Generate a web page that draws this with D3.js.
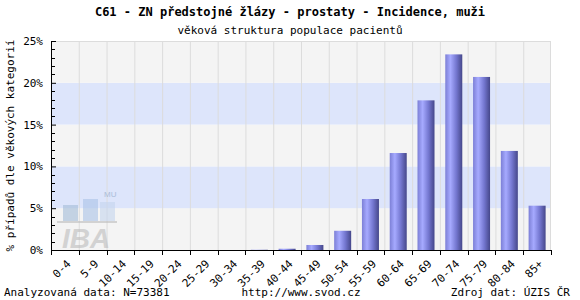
<!DOCTYPE html>
<html>
<head>
<meta charset="utf-8">
<script src="https://cdnjs.cloudflare.com/ajax/libs/d3/7.8.5/d3.min.js"></script>
<style>
  body { margin: 0; background: #fff; }
  svg text { font-family: "DejaVu Sans Mono", monospace; fill: #000; }
</style>
</head>
<body>
<div id="chart"></div>
<script>
// data
var categories = ["0-4","5-9","10-14","15-19","20-24","25-29","30-34","35-39","40-44",
                  "45-49","50-54","55-59","60-64","65-69","70-74","75-79","80-84","85+"];
var values = [0, 0, 0, 0, 0, 0, 0, 0.03, 0.15, 0.6, 2.3, 6.1, 11.6, 17.9, 23.4, 20.7, 11.85, 5.3];
var yTicks = [0, 5, 10, 15, 20, 25];

var title = "C61 - ZN předstojné žlázy - prostaty - Incidence, muži";
var subtitle = "věková struktura populace pacientů";
var yLabel = "% případů dle věkových kategorií";
var footLeft = "Analyzovaná data: N=73381",
    footMid = "http://www.svod.cz",
    footRight = "Zdroj dat: ÚZIS ČR";

var width = 580, height = 300;
var margin = {top: 41, right: 29, bottom: 50, left: 51};
var w = width - margin.left - margin.right,
    h = height - margin.top - margin.bottom;

var svg = d3.select("#chart").append("svg")
    .attr("width", width)
    .attr("height", height);

var defs = svg.append("defs");
var grad = defs.append("linearGradient").attr("id", "barGrad")
    .attr("x1", "0%").attr("x2", "100%").attr("y1", "0%").attr("y2", "0%");
grad.append("stop").attr("offset", "0%").attr("stop-color", "#7c7fd6");
grad.append("stop").attr("offset", "30%").attr("stop-color", "#a6aaff");
grad.append("stop").attr("offset", "65%").attr("stop-color", "#7477d0");
grad.append("stop").attr("offset", "100%").attr("stop-color", "#45478a");

var x = d3.scaleBand().domain(categories).range([0, w]);
var y = d3.scaleLinear().domain([0, 25]).range([h, 0]);

var g = svg.append("g").attr("transform", "translate(" + margin.left + "," + margin.top + ")");

// background stripes
g.selectAll("rect.stripe")
  .data(d3.range(0, 25, 5))
  .enter().append("rect")
    .attr("x", 0)
    .attr("width", w)
    .attr("y", function(d) { return y(d + 5); })
    .attr("height", function(d) { return y(d) - y(d + 5); })
    .attr("fill", function(d) { return (d / 5) % 2 == 1 ? "#dde5fb" : "#f4f4f4"; });

// vertical grid
g.selectAll("line.vgrid")
  .data(categories.slice(1))
  .enter().append("line")
    .attr("x1", function(d) { return x(d) + 0.5; })
    .attr("x2", function(d) { return x(d) + 0.5; })
    .attr("y1", 0).attr("y2", h)
    .attr("stroke", "#dcdcdc");
g.append("line").attr("x1", w - 0.5).attr("x2", w - 0.5).attr("y1", 0).attr("y2", h)
    .attr("stroke", "#dcdcdc");
g.append("line").attr("x1", 0).attr("x2", w).attr("y1", 0.5).attr("y2", 0.5)
    .attr("stroke", "#dcdcdc");

// watermark (IBA MU logo)
var wm = g.append("g").attr("transform", "translate(0," + (h - 56) + ")").attr("opacity", 0.6);
wm.append("rect").attr("x", 12).attr("y", 11).attr("width", 15).attr("height", 16).attr("fill", "#a3bcd8");
wm.append("rect").attr("x", 32).attr("y", 5).attr("width", 15).attr("height", 22).attr("fill", "#aac3e8");
wm.append("rect").attr("x", 49).attr("y", 8).attr("width", 15).attr("height", 19).attr("fill", "#c5d5ef");
wm.append("rect").attr("x", 6).attr("y", 27).attr("width", 60).attr("height", 2).attr("fill", "#bdbdbd");
wm.append("text").attr("x", 53).attr("y", 3)
    .style("font-family", "Liberation Sans, Arial").attr("font-size", 8).style("fill", "#8aa4c4").text("MU");
wm.append("text").attr("x", 11).attr("y", 54)
    .style("font-family", "Liberation Sans, Arial").style("font-weight", "bold").style("font-style", "italic")
    .attr("font-size", 28).style("fill", "#bcbcbc").text("IBA");

// bars
var barW = 17;
g.selectAll("rect.bar")
  .data(values)
  .enter().append("rect")
    .attr("class", "bar")
    .attr("x", function(d, i) { return x(categories[i]) + (x.bandwidth() - barW) / 2; })
    .attr("width", barW)
    .attr("y", function(d) { return y(d); })
    .attr("height", function(d) { return h - y(d); })
    .attr("fill", "url(#barGrad)");

// y axis
var yAxis = g.append("g").call(d3.axisLeft(y).tickValues(yTicks).tickFormat(function(d) { return d + "%"; })
    .tickSize(-5).tickPadding(8));
yAxis.select(".domain").attr("stroke", "#000");
yAxis.selectAll("text").style("font-size", "11px");
g.selectAll("line.minor")
  .data(d3.range(0, 26).filter(function(d) { return d % 5 != 0; }))
  .enter().append("line")
    .attr("x1", 0).attr("x2", 4)
    .attr("y1", function(d) { return Math.round(y(d)) + 0.5; })
    .attr("y2", function(d) { return Math.round(y(d)) + 0.5; })
    .attr("stroke", "#000");

// x axis
var xg = g.append("g").attr("transform", "translate(0," + h + ")");
xg.append("line").attr("x1", 0).attr("x2", w).attr("y1", 0.5).attr("y2", 0.5).attr("stroke", "#000");
xg.selectAll("line.xt")
  .data(d3.range(0, categories.length + 1))
  .enter().append("line")
    .attr("x1", function(i) { return Math.round(i * x.bandwidth()) + 0.5; })
    .attr("x2", function(i) { return Math.round(i * x.bandwidth()) + 0.5; })
    .attr("y1", 0).attr("y2", 5)
    .attr("stroke", "#000");
xg.selectAll("text")
  .data(categories)
  .enter().append("text")
    .attr("text-anchor", "end")
    .attr("font-size", 11)
    .attr("transform", function(d) {
      return "translate(" + (x(d) + x.bandwidth() / 2 + 1) + ",9) rotate(-45)";
    })
    .attr("dy", "0.7em")
    .text(function(d) { return d; });

// titles
svg.append("text").attr("x", 290).attr("y", 16).attr("text-anchor", "middle")
    .style("font-size", "12px").style("font-weight", "bold").text(title);
svg.append("text").attr("x", 290).attr("y", 34).attr("text-anchor", "middle")
    .style("font-size", "11px").text(subtitle);
svg.append("text")
    .attr("transform", "translate(14," + (margin.top + h / 2) + ") rotate(-90)")
    .attr("text-anchor", "middle").style("font-size", "11px").text(yLabel);

// footer
svg.append("text").attr("x", 4).attr("y", 296).style("font-size", "11px").text(footLeft);
svg.append("text").attr("x", 301).attr("y", 296).attr("text-anchor", "middle").style("font-size", "11px").text(footMid);
svg.append("text").attr("x", 570).attr("y", 296).attr("text-anchor", "end").style("font-size", "11px").text(footRight);
</script>
</body>
</html>
